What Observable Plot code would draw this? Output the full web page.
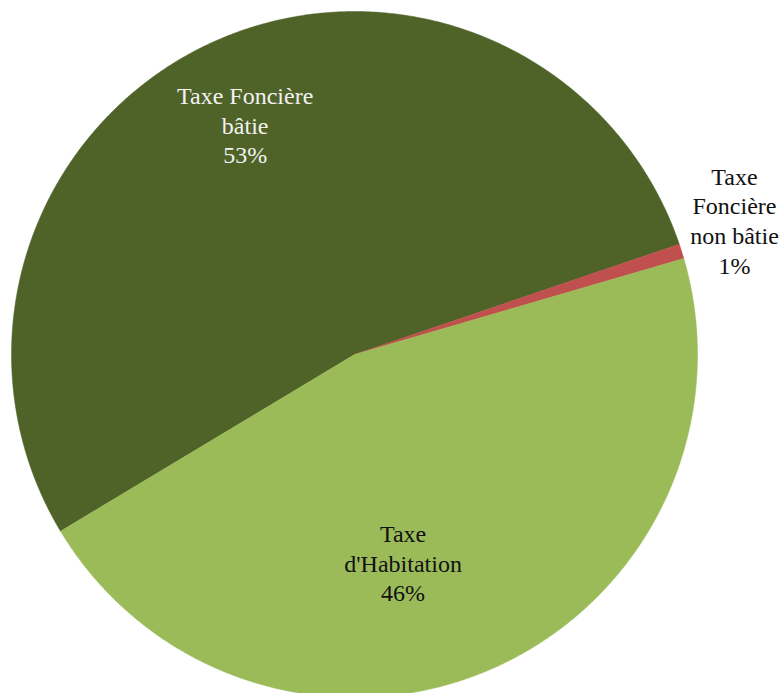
<!DOCTYPE html>
<html>
<head>
<meta charset="utf-8">
<script src="https://cdn.jsdelivr.net/npm/d3@7"></script>
<script src="https://cdn.jsdelivr.net/npm/@observablehq/plot@0.6"></script>
<style>
  html, body { margin: 0; padding: 0; background: #ffffff; }
</style>
</head>
<body>
<div id="chart"></div>
<script>
// ---- Data ----
const categories = ["Taxe Foncière\nbâtie", "Taxe\nFoncière\nnon bâtie", "Taxe\nd'Habitation"];
const values = [53.4, 0.7, 45.9];
const percentLabels = ["53%", "1%", "46%"];
const colors = ["#4F6228", "#C0504D", "#9BBB59"];
const labelColors = ["#f2f2f2", "#111111", "#111111"];

// ---- Layout ----
const W = 782, H = 693;
const cx = 354, cy = 354, R = 343;
const startDeg = 239;             // first slice starts here (clockwise from 12 o'clock)
const labelRadius = [0.73, 1.18, 0.63];
const labelShiftX = [-4, -6, -38];  // pixels
const labelShiftY = [-3, -13, 10];  // pixels (down positive)
const FONT = "Liberation Serif";

const pie = d3.pie().sort(null).value(d => d)
  .startAngle(startDeg * Math.PI / 180)
  .endAngle(startDeg * Math.PI / 180 + 2 * Math.PI);
const arcs = pie(values);

// polygon points for each slice in unit coords (x right, y up)
const slicePts = [];
arcs.forEach((a, i) => {
  const n = Math.max(4, Math.ceil((a.endAngle - a.startAngle) * 180));
  slicePts.push({k: i, x: 0, y: 0});
  for (let j = 0; j <= n; j++) {
    const t = a.startAngle + (a.endAngle - a.startAngle) * j / n;
    slicePts.push({k: i, x: Math.sin(t), y: Math.cos(t)});
  }
  slicePts.push({k: i, x: 0, y: 0});
});

const labels = arcs.map((a, i) => {
  const m = (a.startAngle + a.endAngle) / 2;
  return {
    k: i,
    x: Math.sin(m) * labelRadius[i] + labelShiftX[i] / R,
    y: Math.cos(m) * labelRadius[i] - labelShiftY[i] / R,
    text: categories[i] + "\n" + percentLabels[i]
  };
});

const chart = Plot.plot({
  width: W,
  height: H,
  margin: 0,
  style: {fontFamily: FONT},
  x: {domain: [-cx / R, (W - cx) / R], axis: null},
  y: {domain: [(cy - H) / R, cy / R], axis: null},
  marks: [
    Plot.line(slicePts, {
      x: "x", y: "y", z: "k",
      fill: d => colors[d.k],
      stroke: d => colors[d.k],
      strokeWidth: 0.5,
      curve: "linear"
    }),
    Plot.text(labels, {
      x: "x", y: "y",
      text: "text",
      fill: d => labelColors[d.k],
      fontSize: 24,
      lineHeight: 1.23,
      fontFamily: FONT,
      textAnchor: "middle"
    })
  ]
});

d3.select(chart).selectAll("text, tspan")
  .attr("font-family", FONT)
  .style("font-family", FONT);

document.getElementById("chart").appendChild(chart);
</script>
</body>
</html>
